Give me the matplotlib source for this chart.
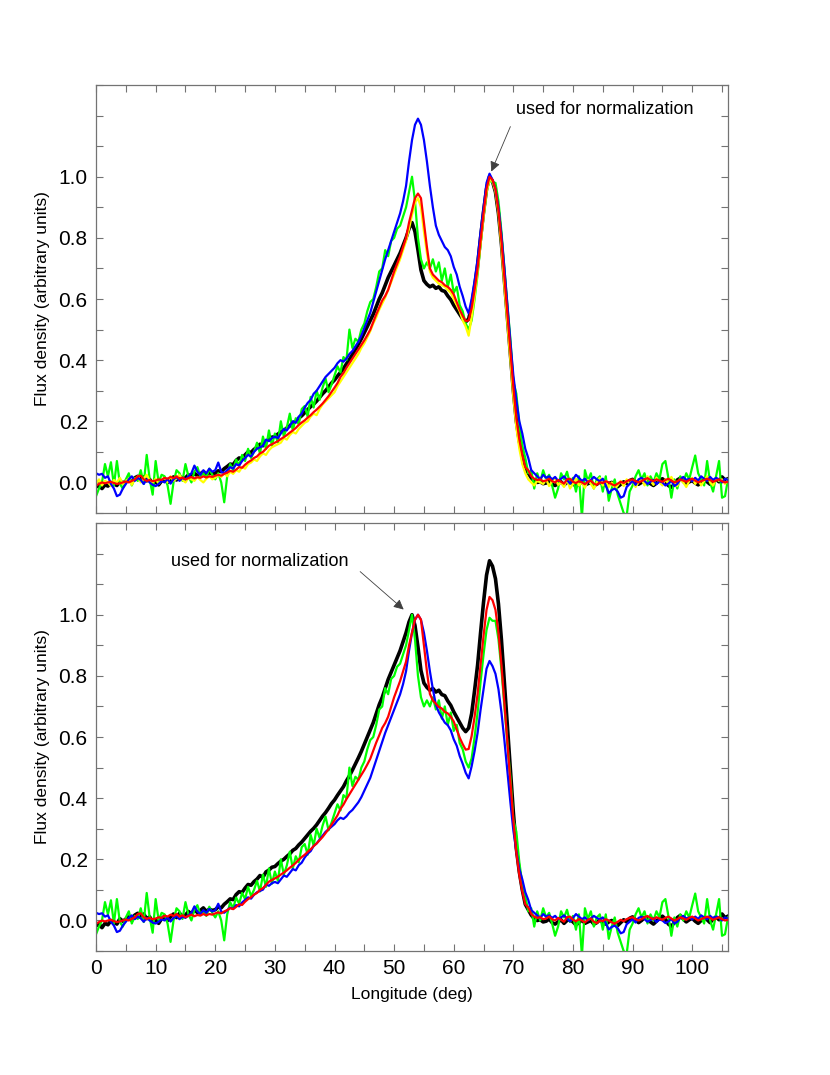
import numpy as np
import matplotlib
matplotlib.use("Agg")
import matplotlib.pyplot as plt
from matplotlib.ticker import MultipleLocator, FuncFormatter

plt.rcParams['font.family'] = ['Liberation Sans', 'DejaVu Sans']

# pulse longitude grid (deg), one sample every 0.5 deg
lon = np.arange(0, 106.25, 0.5)

# profiles normalised to the trailing peak (upper panel); rows of 5 deg
black = [
    -0.015, -0.010, -0.020, -0.008, -0.012, 0.000, -0.005, -0.010, 0.005, -0.002,
    0.004, 0.010, 0.000, 0.015, 0.020, 0.012, 0.018, 0.005, 0.010, -0.005,
    0.002, -0.008, 0.005, 0.012, 0.000, 0.010, 0.018, 0.008, 0.020, 0.012,
    0.015, 0.025, 0.018, 0.030, 0.022, 0.028, 0.035, 0.025, 0.032, 0.028,
    0.030, 0.038, 0.035, 0.045, 0.052, 0.060, 0.058, 0.072, 0.080, 0.078,
    0.090, 0.100, 0.098, 0.108, 0.115, 0.125, 0.120, 0.135, 0.140, 0.148,
    0.150, 0.158, 0.165, 0.170, 0.178, 0.185, 0.195, 0.200, 0.210, 0.218,
    0.228, 0.238, 0.248, 0.256, 0.266, 0.278, 0.290, 0.300, 0.312, 0.325,
    0.335, 0.348, 0.360, 0.372, 0.388, 0.402, 0.418, 0.435, 0.452, 0.470,
    0.490, 0.510, 0.530, 0.550, 0.575, 0.600, 0.620, 0.645, 0.670, 0.690,
    0.710, 0.730, 0.750, 0.775, 0.800, 0.830, 0.850, 0.820, 0.760, 0.695,
    0.660, 0.648, 0.640, 0.645, 0.635, 0.640, 0.628, 0.625, 0.610, 0.598,
    0.580, 0.565, 0.550, 0.535, 0.525, 0.535, 0.575, 0.640, 0.710, 0.800,
    0.885, 0.960, 1.000, 0.985, 0.950, 0.880, 0.780, 0.660, 0.540, 0.420,
    0.300, 0.200, 0.135, 0.085, 0.045, 0.030, 0.015, 0.005, 0.000, 0.002,
    -0.004, -0.002, 0.004, -0.006, -0.010, -0.004, 0.002, -0.008, 0.000, 0.004,
    -0.004, -0.012, -0.006, 0.002, -0.008, -0.004, 0.000, -0.010, -0.006, 0.002,
    -0.006, -0.010, -0.004, 0.000, -0.008, -0.014, -0.006, 0.002, -0.004, 0.006,
    0.010, 0.002, -0.006, 0.000, 0.008, 0.004, -0.004, -0.010, -0.002, 0.006,
    0.012, 0.004, -0.010, -0.016, -0.006, 0.008, 0.014, 0.004, -0.004, 0.002,
    0.006, -0.002, -0.008, 0.000, 0.008, 0.002, -0.006, 0.004, 0.010, 0.002,
    0.018, 0.008, 0.012,
]

green = [
    -0.045, -0.020, 0.000, 0.060, 0.020, 0.066, -0.010, 0.070, -0.005, -0.020,
    0.010, 0.030, -0.010, 0.015, 0.005, 0.040, -0.005, 0.090, 0.010, -0.040,
    0.070, 0.000, 0.025, 0.020, -0.010, -0.070, 0.000, 0.040, 0.030, 0.005,
    0.060, 0.020, 0.000, 0.035, 0.050, 0.020, 0.030, 0.015, 0.045, 0.025,
    0.010, 0.030, 0.000, -0.065, 0.020, 0.060, 0.040, 0.075, 0.055, 0.090,
    0.070, 0.110, 0.080, 0.100, 0.130, 0.095, 0.150, 0.110, 0.170, 0.120,
    0.160, 0.130, 0.200, 0.150, 0.180, 0.225, 0.170, 0.210, 0.190, 0.240,
    0.250, 0.215, 0.280, 0.245, 0.300, 0.270, 0.310, 0.340, 0.295, 0.320,
    0.350, 0.380, 0.360, 0.410, 0.400, 0.500, 0.440, 0.470, 0.460, 0.500,
    0.520, 0.560, 0.590, 0.600, 0.640, 0.690, 0.700, 0.760, 0.740, 0.790,
    0.800, 0.830, 0.840, 0.870, 0.900, 0.950, 1.000, 0.920, 0.800, 0.730,
    0.700, 0.720, 0.700, 0.730, 0.690, 0.720, 0.660, 0.700, 0.640, 0.680,
    0.620, 0.640, 0.580, 0.560, 0.520, 0.500, 0.530, 0.600, 0.680, 0.780,
    0.870, 0.950, 0.990, 0.980, 0.980, 0.920, 0.820, 0.700, 0.580, 0.470,
    0.330, 0.290, 0.190, 0.120, 0.080, 0.030, 0.040, -0.020, 0.030, 0.000,
    0.040, 0.010, 0.025, -0.010, -0.050, -0.020, 0.030, 0.010, 0.035, -0.005,
    0.015, -0.030, 0.020, -0.115, 0.040, 0.005, 0.030, -0.020, 0.010, 0.020,
    -0.030, 0.020, -0.060, -0.020, 0.010, -0.040, -0.070, -0.100, -0.110, -0.030,
    -0.010, 0.020, 0.040, 0.010, 0.030, -0.010, 0.020, 0.000, 0.030, 0.010,
    0.060, 0.070, 0.015, -0.050, 0.010, -0.020, 0.020, 0.000, 0.030, 0.010,
    0.050, 0.088, 0.030, 0.010, -0.010, 0.070, 0.000, -0.030, 0.020, 0.070,
    -0.050, -0.045, 0.010,
]

yellow = [
    -0.005, 0.010, -0.010, 0.005, 0.000, -0.012, 0.008, 0.000, 0.015, -0.005,
    0.005, 0.012, -0.008, 0.010, 0.020, 0.000, 0.012, 0.025, 0.005, 0.000,
    0.012, -0.005, 0.008, 0.015, 0.000, 0.020, 0.005, 0.012, 0.025, 0.008,
    0.000, 0.015, 0.010, 0.005, 0.018, 0.008, 0.000, 0.012, 0.020, 0.010,
    0.015, 0.025, 0.018, 0.030, 0.020, 0.035, 0.028, 0.040, 0.035, 0.050,
    0.045, 0.060, 0.065, 0.075, 0.070, 0.085, 0.095, 0.090, 0.105, 0.115,
    0.120, 0.125, 0.130, 0.145, 0.140, 0.155, 0.165, 0.160, 0.175, 0.185,
    0.195, 0.200, 0.215, 0.225, 0.220, 0.240, 0.255, 0.265, 0.275, 0.285,
    0.295, 0.315, 0.330, 0.345, 0.360, 0.375, 0.390, 0.405, 0.420, 0.440,
    0.455, 0.475, 0.495, 0.520, 0.540, 0.565, 0.585, 0.605, 0.630, 0.655,
    0.680, 0.705, 0.730, 0.760, 0.790, 0.830, 0.875, 0.915, 0.930, 0.900,
    0.820, 0.750, 0.690, 0.670, 0.660, 0.650, 0.645, 0.640, 0.630, 0.620,
    0.600, 0.580, 0.560, 0.530, 0.510, 0.480, 0.540, 0.610, 0.690, 0.780,
    0.870, 0.950, 0.990, 0.985, 0.950, 0.880, 0.770, 0.640, 0.520, 0.400,
    0.280, 0.180, 0.110, 0.060, 0.030, 0.010, 0.000, -0.010, 0.005, 0.000,
    -0.005, 0.010, -0.012, 0.005, 0.015, -0.008, 0.000, -0.015, 0.010, -0.020,
    -0.005, 0.012, -0.010, 0.000, -0.018, 0.008, -0.005, -0.020, 0.000, 0.015,
    -0.010, 0.005, -0.015, 0.000, -0.020, -0.010, 0.005, -0.012, 0.010, -0.005,
    0.008, -0.015, 0.000, 0.012, -0.010, 0.020, 0.005, -0.008, 0.015, 0.000,
    -0.010, 0.010, -0.005, 0.018, 0.000, -0.012, 0.010, 0.000, -0.015, 0.005,
    0.015, -0.005, 0.010, -0.010, 0.005, 0.020, 0.000, -0.010, 0.012, 0.005,
    0.010, -0.005, 0.008,
]

blue = [
    0.030, 0.025, 0.028, 0.015, 0.020, -0.005, -0.020, -0.045, -0.040, -0.020,
    -0.005, 0.010, 0.020, 0.005, 0.015, 0.008, -0.005, 0.010, 0.000, -0.008,
    -0.012, -0.005, 0.005, 0.000, 0.012, -0.004, 0.010, 0.018, 0.005, 0.015,
    0.010, 0.020, 0.030, 0.055, 0.035, 0.025, 0.040, 0.030, 0.045, 0.035,
    0.040, 0.065, 0.035, 0.030, 0.040, 0.050, 0.045, 0.060, 0.055, 0.070,
    0.080, 0.090, 0.085, 0.100, 0.110, 0.115, 0.120, 0.140, 0.135, 0.145,
    0.150, 0.145, 0.160, 0.175, 0.170, 0.185, 0.200, 0.195, 0.215, 0.225,
    0.245, 0.260, 0.270, 0.290, 0.300, 0.315, 0.330, 0.345, 0.355, 0.365,
    0.375, 0.390, 0.400, 0.395, 0.405, 0.420, 0.430, 0.445, 0.460, 0.480,
    0.505, 0.530, 0.555, 0.590, 0.625, 0.660, 0.695, 0.730, 0.760, 0.790,
    0.820, 0.850, 0.880, 0.920, 0.970, 1.050, 1.120, 1.170, 1.190, 1.170,
    1.120, 1.050, 0.970, 0.900, 0.840, 0.810, 0.790, 0.770, 0.760, 0.740,
    0.705, 0.680, 0.640, 0.610, 0.575, 0.553, 0.600, 0.660, 0.730, 0.820,
    0.900, 0.980, 1.010, 0.990, 0.960, 0.900, 0.810, 0.700, 0.580, 0.460,
    0.350, 0.270, 0.200, 0.160, 0.110, 0.080, 0.040, 0.030, 0.020, 0.010,
    0.025, 0.015, 0.020, 0.010, 0.018, 0.005, 0.012, 0.020, 0.008, -0.004,
    0.010, 0.025, 0.015, 0.005, 0.012, 0.000, 0.008, 0.018, 0.010, 0.004,
    0.012, -0.010, -0.035, -0.025, -0.020, -0.030, -0.050, -0.045, -0.015, -0.005,
    0.005, -0.008, 0.010, 0.015, 0.005, -0.005, 0.002, 0.008, -0.006, 0.004,
    0.000, -0.010, -0.004, 0.006, -0.012, -0.005, 0.010, 0.018, 0.008, 0.012,
    0.004, 0.015, 0.006, 0.020, 0.012, 0.005, 0.018, 0.008, 0.015, 0.010,
    0.000, 0.012, 0.008,
]

red = [
    -0.010, -0.005, 0.000, -0.003, 0.000, 0.002, -0.002, -0.005, -0.003, 0.000,
    0.003, 0.000, 0.005, 0.010, 0.020, 0.022, 0.010, 0.005, 0.008, 0.004,
    0.006, 0.010, 0.008, 0.015, 0.012, 0.018, 0.014, 0.020, 0.012, 0.016,
    0.010, 0.014, 0.018, 0.013, 0.017, 0.015, 0.020, 0.016, 0.020, 0.018,
    0.022, 0.025, 0.022, 0.028, 0.032, 0.038, 0.035, 0.042, 0.050, 0.048,
    0.058, 0.066, 0.072, 0.080, 0.085, 0.095, 0.100, 0.110, 0.120, 0.125,
    0.130, 0.135, 0.142, 0.148, 0.155, 0.163, 0.170, 0.178, 0.188, 0.196,
    0.203, 0.212, 0.220, 0.230, 0.238, 0.248, 0.258, 0.270, 0.282, 0.296,
    0.310, 0.325, 0.345, 0.358, 0.375, 0.390, 0.405, 0.420, 0.435, 0.450,
    0.465, 0.482, 0.500, 0.525, 0.550, 0.572, 0.595, 0.610, 0.630, 0.660,
    0.690, 0.715, 0.740, 0.770, 0.800, 0.850, 0.890, 0.930, 0.945, 0.930,
    0.850, 0.770, 0.700, 0.680, 0.670, 0.660, 0.655, 0.645, 0.640, 0.630,
    0.615, 0.590, 0.565, 0.545, 0.528, 0.530, 0.570, 0.630, 0.700, 0.790,
    0.880, 0.960, 1.000, 0.990, 0.960, 0.890, 0.790, 0.670, 0.550, 0.430,
    0.310, 0.210, 0.140, 0.090, 0.050, 0.040, 0.020, 0.012, 0.008, 0.010,
    0.004, 0.006, 0.012, 0.004, 0.000, 0.008, 0.002, -0.004, 0.010, 0.012,
    0.002, -0.002, 0.004, 0.000, -0.006, 0.002, 0.006, -0.004, -0.008, 0.000,
    -0.002, 0.004, 0.000, -0.006, -0.010, -0.004, 0.002, -0.002, 0.004, 0.008,
    0.010, 0.004, 0.000, 0.004, 0.010, 0.014, 0.008, 0.004, 0.010, 0.006,
    0.002, 0.008, 0.012, 0.006, 0.000, 0.004, 0.010, 0.006, 0.002, 0.008,
    0.012, 0.006, 0.000, 0.004, 0.008, 0.012, 0.008, 0.002, 0.006, 0.010,
    0.004, 0.000, 0.002,
]

top_series = [(black, 'black', 2.6), (green, '#00ff00', 1.6), (yellow, '#ffff00', 1.6),
              (blue, '#0000ff', 1.6), (red, '#ff0000', 1.6)]
# lower panel: same profiles re-normalised to the leading peak (no yellow)
bottom_series = [(black, 'black', 2.6), (green, '#00ff00', 1.6),
                 (blue, '#0000ff', 1.6), (red, '#ff0000', 1.6)]

note = "used for normalization"
ylabels = [0.0, 0.2, 0.4, 0.6, 0.8, 1.0]

fig = plt.figure(figsize=(8.3, 10.75), dpi=100)
ax1 = fig.add_axes([0.1157, 0.5228, 0.7614, 0.3981])
ax2 = fig.add_axes([0.1157, 0.1153, 0.7614, 0.3982])

lead = (lon >= 45) & (lon <= 58)

for y, c, lw in top_series:
    ax1.plot(lon, y, color=c, lw=lw)
for y, c, lw in bottom_series:
    y = np.asarray(y)
    ax2.plot(lon, y / y[lead].max(), color=c, lw=lw)


def yfmt(v, pos):
    for l in ylabels:
        if abs(v - l) < 1e-6:
            return "%.1f" % l
    return ""


def xfmt(v, pos):
    if abs(v % 10) < 1e-6:
        return "%d" % v
    return ""


for ax in (ax1, ax2):
    ax.set_xlim(0, 106)
    ax.set_ylim(-0.1, 1.3)
    ax.xaxis.set_major_locator(MultipleLocator(5))
    ax.yaxis.set_major_locator(MultipleLocator(0.1))
    ax.yaxis.set_major_formatter(FuncFormatter(yfmt))
    ax.tick_params(direction='in', top=True, right=True, length=5,
                   width=0.8, color='0.45', labelsize=15, pad=6)
    for s in ax.spines.values():
        s.set_color('0.45')
        s.set_linewidth(0.9)
    ax.set_ylabel("Flux density (arbitrary units)", fontsize=12.5, labelpad=6)

ax1.tick_params(labelbottom=False)
ax2.xaxis.set_major_formatter(FuncFormatter(xfmt))
ax2.set_xlabel("Longitude (deg)", fontsize=12.5, labelpad=6)

arrow = dict(arrowstyle='-|>', color='0.25', lw=0.6, mutation_scale=15,
             shrinkA=0, shrinkB=0)
ax1.text(70.5, 1.22, note, fontsize=13, va='center', ha='left')
ax1.annotate('', xy=(66.3, 1.017), xytext=(69.5, 1.164), arrowprops=arrow)
ax2.text(12.6, 1.174, note, fontsize=13, va='center', ha='left')
ax2.annotate('', xy=(51.6, 1.017), xytext=(44.3, 1.141), arrowprops=arrow)

fig.savefig("out.png", dpi=100)
